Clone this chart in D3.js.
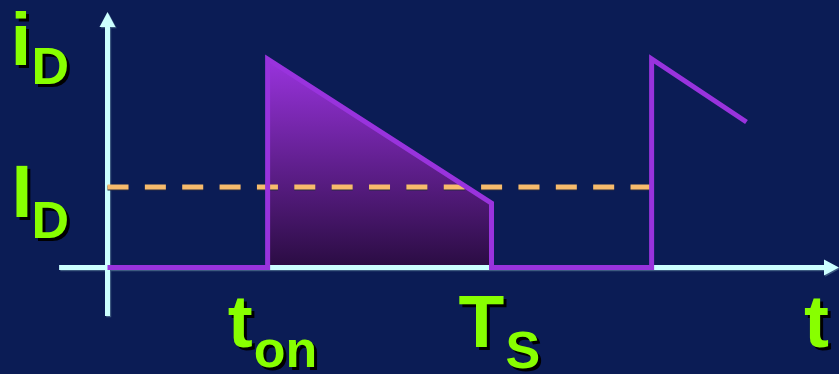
<!DOCTYPE html>
<html><head><meta charset="utf-8">
<script src="https://cdn.jsdelivr.net/npm/d3@7"></script>
<style>
html,body{margin:0;padding:0;background:#0b1c55;}
svg{display:block;}
</style>
</head><body>
<svg id="chart" width="839" height="374"></svg>
<script>
// ---- data (time in units of T_S, current in units of peak) ----
const tOn = 0.417;           // switch-on instant
const tS = 1.0;              // switching period T_S
const waveTimes  = [0, 0.417, 0.417, 1.0, 1.0, 1.417, 1.417, 1.664];
const waveValues = [0, 0,     1,     0.309, 0,  0,     1,     0.698];
const fillTimes  = [0.417, 0.417, 1.0, 1.0];
const fillValues = [0,     1,     0.309, 0];
const avgCurrent = 0.386;    // I_D
const dashEnd = 1.417;
const xAxisRange = [-0.126, 1.905];
const yAxisRange = [-0.233, 1.225];

const W = 839, H = 374;
const svg = d3.select("#chart");
const x = d3.scaleLinear().domain([0, 1]).range([107.5, 491.5]);
const y = d3.scaleLinear().domain([0, 1]).range([267.5, 59]);

const bg = "#0b1c55", cyan = "#ccffff", purple = "#9933dd", orange = "#f7bb6c", green = "#88ff00";

svg.append("rect").attr("width", W).attr("height", H).attr("fill", bg);

const defs = svg.append("defs");
const grad = defs.append("linearGradient").attr("id", "g").attr("x1", 0).attr("y1", 0).attr("x2", 0).attr("y2", 1);
grad.append("stop").attr("offset", "0%").attr("stop-color", "#9933dd");
grad.append("stop").attr("offset", "100%").attr("stop-color", "#2a0c42");

// fill
const fillPts = fillTimes.map((t, i) => [x(t), y(fillValues[i])]);
svg.append("path").attr("d", d3.line()(fillPts)).attr("fill", "url(#g)");

// axes (with faint shadow)
function axes(g, col, dx, dy) {
  g.append("line").attr("x1", x(xAxisRange[0]) + dx).attr("x2", x(xAxisRange[1]) - 12 + dx)
    .attr("y1", y(0) + dy).attr("y2", y(0) + dy).attr("stroke", col).attr("stroke-width", 5);
  g.append("line").attr("x1", x(0) + dx).attr("x2", x(0) + dx)
    .attr("y1", y(yAxisRange[0]) + dy).attr("y2", y(yAxisRange[1]) + 12 + dy).attr("stroke", col).attr("stroke-width", 5);
  const xe = x(xAxisRange[1]), ye = y(yAxisRange[1]);
  g.append("path").attr("d", `M${xe + dx},${y(0) + dy}L${xe - 15 + dx},${y(0) - 8 + dy}L${xe - 15 + dx},${y(0) + 8 + dy}Z`).attr("fill", col);
  g.append("path").attr("d", `M${x(0) + dx},${ye + dy}L${x(0) - 8 + dx},${ye + 15 + dy}L${x(0) + 8 + dx},${ye + 15 + dy}Z`).attr("fill", col);
}
axes(svg.append("g"), "#3d5a80", 1.2, 1.2);
axes(svg.append("g"), cyan, 0, 0);

// dashed average line
svg.append("line").attr("x1", x(0)).attr("x2", x(dashEnd))
  .attr("y1", y(avgCurrent) + 1).attr("y2", y(avgCurrent) + 1)
  .attr("stroke", "#2a2a40").attr("stroke-width", 5).attr("stroke-dasharray", "21 16.36");
svg.append("line").attr("x1", x(0)).attr("x2", x(dashEnd))
  .attr("y1", y(avgCurrent)).attr("y2", y(avgCurrent))
  .attr("stroke", orange).attr("stroke-width", 5).attr("stroke-dasharray", "21 16.36");

// waveform
const wavePts = waveTimes.map((t, i) => [x(t), y(waveValues[i])]);
svg.append("path").attr("d", d3.line()(wavePts)).attr("fill", "none")
  .attr("stroke", purple).attr("stroke-width", 5).attr("stroke-linejoin", "miter");

// labels with drop shadow
function label(txt, px, py, size) {
  svg.append("text").attr("x", px + 3).attr("y", py + 3).text(txt)
    .attr("font-family", "Liberation Sans, Arial, sans-serif").attr("font-weight", "bold")
    .attr("font-size", size).attr("fill", "#000");
  svg.append("text").attr("x", px).attr("y", py).text(txt)
    .attr("font-family", "Liberation Sans, Arial, sans-serif").attr("font-weight", "bold")
    .attr("font-size", size).attr("fill", green);
}
const big = 75, small = 52;
// i_D (y axis title)
label("i", x(0) - 97, y(yAxisRange[1]) + 53, big);
label("D", x(0) - 76, y(yAxisRange[1]) + 72, small);
// I_D (dashed level)
label("I", x(0) - 96, y(avgCurrent) + 30, big);
label("D", x(0) - 76, y(avgCurrent) + 51, small);
// t_on
label("t", x(tOn) - 40, y(0) + 79, big);
label("on", x(tOn) - 14, y(0) + 99, small);
// T_S
label("T", x(tS) - 33, y(0) + 79, big);
label("S", x(tS) + 14, y(0) + 100, small);
// t
label("t", x(xAxisRange[1]) - 35, y(0) + 79, big);
</script>
</body></html>
